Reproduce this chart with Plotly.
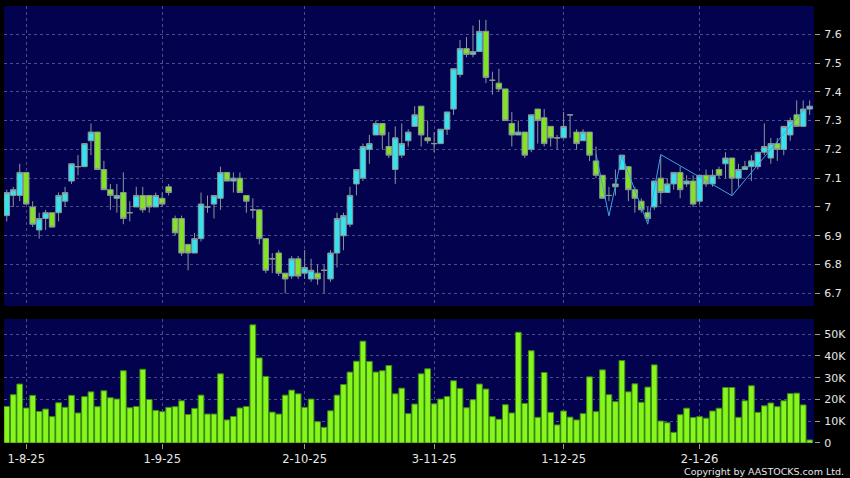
import plotly.graph_objects as go

# ---------------- data ----------------
open_ = [6.97,7.04,7.04,7.12,7.00,6.92,6.96,6.98,6.98,7.02,7.09,7.14,7.14,7.23,7.26,7.13,7.06,7.03,7.05,6.98,
         7.00,7.04,7.04,7.00,7.03,7.07,6.96,6.96,6.87,6.84,6.89,7.00,7.01,7.03,7.12,7.09,7.10,7.04,6.99,6.99,
         6.89,6.82,6.84,6.77,6.76,6.82,6.77,6.75,6.77,6.78,6.75,6.84,6.90,6.94,7.08,7.10,7.20,7.25,7.29,7.21,
         7.13,7.18,7.23,7.28,7.35,7.24,7.22,7.22,7.27,7.34,7.46,7.55,7.53,7.54,7.61,7.44,7.43,7.41,7.29,7.25,
         7.26,7.20,7.34,7.31,7.28,7.24,7.24,7.32,7.26,7.23,7.26,7.16,7.11,7.04,7.08,7.13,7.14,7.06,7.02,6.98,
         7.00,7.10,7.05,7.08,7.12,7.08,7.09,7.02,7.11,7.08,7.13,7.15,7.17,7.10,7.13,7.14,7.14,7.19,7.17,7.22,
         7.20,7.25,7.32,7.28,7.34]
high = [7.06,7.07,7.15,7.12,7.02,6.98,6.99,6.98,7.05,7.07,7.15,7.18,7.22,7.29,7.26,7.16,7.08,7.08,7.12,7.02,
        7.07,7.07,7.04,7.05,7.05,7.08,6.97,6.97,6.87,6.91,7.05,7.04,7.04,7.14,7.12,7.12,7.12,7.04,7.03,6.99,
        6.89,6.84,6.85,6.77,6.83,6.83,6.85,6.82,6.80,6.80,6.85,6.98,6.98,7.07,7.13,7.22,7.25,7.30,7.29,7.26,
        7.28,7.29,7.27,7.35,7.35,7.30,7.26,7.27,7.33,7.48,7.58,7.59,7.63,7.65,7.65,7.47,7.48,7.41,7.33,7.30,
        7.26,7.32,7.34,7.34,7.28,7.25,7.33,7.32,7.27,7.27,7.26,7.21,7.11,7.07,7.13,7.18,7.14,7.07,7.03,7.00,
        7.09,7.18,7.10,7.12,7.14,7.11,7.11,7.11,7.13,7.13,7.14,7.19,7.17,7.15,7.16,7.18,7.19,7.29,7.24,7.24,
        7.28,7.31,7.37,7.37,7.37]
low = [6.95,7.00,7.02,7.01,6.93,6.89,6.92,6.93,6.95,7.00,7.08,7.11,7.14,7.18,7.13,7.06,6.99,6.98,6.94,6.95,
       7.00,6.98,6.98,7.00,7.00,7.04,6.90,6.83,6.78,6.84,6.88,6.98,6.96,6.99,7.09,7.05,7.05,6.98,6.96,6.87,
       6.77,6.77,6.76,6.70,6.75,6.75,6.75,6.74,6.73,6.70,6.74,6.79,6.85,6.93,7.04,7.09,7.15,7.25,7.20,7.17,
       7.08,7.17,7.21,7.28,7.21,7.22,7.19,7.22,7.25,7.32,7.45,7.52,7.52,7.54,7.43,7.39,7.40,7.30,7.21,7.25,
       7.17,7.19,7.22,7.21,7.21,7.20,7.24,7.24,7.20,7.23,7.16,7.10,7.03,7.02,7.04,7.13,7.02,6.98,6.98,6.95,
       6.99,7.01,7.05,7.06,7.03,7.07,7.00,7.01,7.07,7.07,7.10,7.10,7.04,7.07,7.13,7.09,7.13,7.18,7.15,7.16,
       7.18,7.23,7.28,7.28,7.32]
close = [7.05,7.06,7.12,7.01,6.94,6.96,6.98,6.93,7.04,7.05,7.15,7.14,7.22,7.26,7.13,7.06,7.04,7.04,6.96,6.98,
         7.04,6.99,7.00,7.04,7.01,7.05,6.91,6.84,6.84,6.89,7.01,7.00,7.04,7.12,7.09,7.10,7.05,7.02,6.99,6.89,
         6.78,6.82,6.77,6.75,6.82,6.76,6.79,6.78,6.75,6.78,6.84,6.96,6.97,7.04,7.13,7.21,7.22,7.29,7.25,7.18,
         7.24,7.22,7.26,7.32,7.25,7.23,7.22,7.27,7.33,7.48,7.55,7.53,7.54,7.61,7.45,7.44,7.41,7.30,7.25,7.26,
         7.18,7.32,7.30,7.22,7.24,7.24,7.28,7.32,7.22,7.26,7.18,7.11,7.03,7.04,7.07,7.18,7.06,7.03,6.99,6.96,
         7.09,7.05,7.08,7.12,7.06,7.09,7.01,7.11,7.08,7.11,7.11,7.17,7.10,7.13,7.14,7.16,7.19,7.21,7.22,7.20,
         7.28,7.30,7.28,7.34,7.35]
volume_k = [16.8,22.2,27.1,16.1,21.9,14.5,15.6,12.1,18.5,16.4,21.9,13.8,21.3,23.5,16.7,24.0,20.8,20.2,33.2,16.2,
            16.8,33.9,20.0,15.0,14.4,16.4,16.7,19.4,13.1,15.9,22.0,13.3,13.3,31.8,10.6,12.2,16.1,16.8,54.3,39.1,
            30.6,14.2,13.3,22.0,24.3,22.6,16.4,20.2,9.8,7.2,14.8,22.0,26.9,32.6,37.6,46.8,37.5,32.6,33.2,35.6,
            22.6,25.2,13.5,17.9,31.8,34.1,18.0,20.2,21.4,28.6,25.1,16.2,19.9,27.1,24.8,12.1,10.9,17.6,13.8,50.9,
            18.2,42.4,11.8,32.4,14.1,8.3,14.7,11.9,10.6,13.5,30.4,14.4,33.6,22.2,19.0,37.9,23.5,27.2,18.7,25.7,
            35.9,10.1,9.3,4.9,13.0,16.0,11.7,12.1,11.4,14.7,16.0,25.5,25.5,11.8,19.4,26.3,14.1,17.1,18.4,16.7,
            19.4,22.7,22.9,17.5,1.4]
bar_index = list(range(len(close)))

# zig-zag overlay (bar index, price)
zz_index = [91, 93, 95, 99, 101, 112, 123]
zz_price = [7.184, 6.969, 7.178, 6.94, 7.182, 7.039, 7.335]

# axis ticks
date_tick_index = [3, 24, 46, 66, 86, 107]
date_tick_text = ["1-8-25", "1-9-25", "2-10-25", "3-11-25", "1-12-25", "2-1-26"]
price_ticks = [6.7, 6.8, 6.9, 7.0, 7.1, 7.2, 7.3, 7.4, 7.5, 7.6]
price_tick_text = ["6.7", "6.8", "6.9", "7", "7.1", "7.2", "7.3", "7.4", "7.5", "7.6"]
vol_ticks = [0, 10000, 20000, 30000, 40000, 50000]
vol_tick_text = ["0", "10K", "20K", "30K", "40K", "50K"]

# ---------------- styling ----------------
NAVY = "#02024e"
GRID = "#4c4c86"
CYAN = "#33e4f0"
GREEN = "#84e224"
VOLGREEN = "#86f61c"
WICK = "#8a9898"
TXT = "#e6e6e6"
FONT = "DejaVu Sans"

fig = go.Figure()
fig.add_trace(go.Candlestick(
    x=bar_index, open=open_, high=high, low=low, close=close,
    increasing=dict(fillcolor=CYAN, line=dict(color=WICK, width=1)),
    decreasing=dict(fillcolor=GREEN, line=dict(color=WICK, width=1)),
    whiskerwidth=0, xaxis="x", yaxis="y", hoverinfo="skip", showlegend=False))
fig.add_trace(go.Scatter(
    x=zz_index, y=zz_price, mode="lines", line=dict(color="#3fa2e2", width=1),
    xaxis="x", yaxis="y", hoverinfo="skip", showlegend=False))
fig.add_trace(go.Bar(
    x=bar_index, y=[v * 1000 for v in volume_k],
    marker=dict(color=VOLGREEN, line=dict(color="#3e8c12", width=1)),
    xaxis="x2", yaxis="y2", hoverinfo="skip", showlegend=False))

xr = [-0.43, 124.67]
common_x = dict(range=xr, tickvals=date_tick_index, showgrid=True, gridcolor=GRID,
                griddash="3px,3px", gridwidth=1, zeroline=False, showline=False)
fig.update_layout(
    width=850, height=478,
    margin=dict(l=4, r=32, t=6, b=35),
    paper_bgcolor="#000000", plot_bgcolor=NAVY,
    font=dict(family=FONT, color=TXT, size=11),
    bargap=0.12, boxgap=0.15, boxgroupgap=0,
    xaxis=dict(domain=[0, 1], anchor="y", showticklabels=False, ticks="",
               rangeslider=dict(visible=False), **common_x),
    xaxis2=dict(domain=[0, 1], anchor="y2", ticktext=date_tick_text, ticks="outside",
                ticklen=5, tickcolor="#9a9a9a", tickfont=dict(size=11.5, color=TXT, family=FONT),
                **common_x),
    yaxis=dict(domain=[0.3135, 1], anchor="x", side="right", range=[6.656, 7.698],
               tickvals=price_ticks, ticktext=price_tick_text, ticks="outside", ticklen=5,
               ticklabelstandoff=2,
               tickcolor="#9a9a9a", showgrid=True, gridcolor=GRID, griddash="3px,3px",
               zeroline=False, showline=False, tickfont=dict(size=11, color=TXT, family=FONT)),
    yaxis2=dict(domain=[0, 0.2838], anchor="x2", side="right", range=[0, 57000],
                tickvals=vol_ticks, ticktext=vol_tick_text, ticks="outside", ticklen=5,
                ticklabelstandoff=2,
                tickcolor="#9a9a9a", showgrid=True, gridcolor=GRID, griddash="3px,3px",
                zeroline=False, showline=False, tickfont=dict(size=11, color=TXT, family=FONT)),
    annotations=[dict(text="Copyright by AASTOCKS.com Ltd.", xref="paper", yref="paper",
                      x=1.039, y=-0.0652, xanchor="right", yanchor="middle", showarrow=False,
                      font=dict(size=9.5, color=TXT, family=FONT))],
)

fig.write_html("out.html", config={"displayModeBar": False},
               post_script="document.body.style.margin='0';document.body.style.background='#000';")
